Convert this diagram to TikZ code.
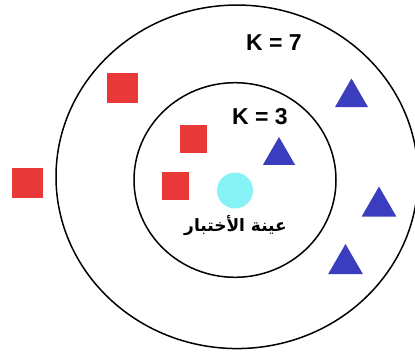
\documentclass[tikz,border=0pt]{standalone}
\usepackage{fontspec}
\setmainfont{Liberation Sans}
\newfontfamily\arabicfont[Script=Arabic]{DejaVu Sans}
\TeXXeTstate=1
\usetikzlibrary{shapes.geometric}
\definecolor{classA}{RGB}{232,56,56}
\definecolor{classB}{RGB}{58,62,190}
\definecolor{query}{RGB}{135,242,246}
\tikzset{ring/.style={ellipse,draw=black,line width=1.5pt,inner sep=0pt},
 sqpt/.style={rectangle,fill=classA,inner sep=0pt,minimum width=27pt,minimum height=28pt},
 tript/.style={regular polygon,regular polygon sides=3,fill=classB,inner sep=0pt,minimum size=38pt},
 klabel/.style={font=\bfseries\fontsize{23}{26}\selectfont},
 every picture/.style={line join=round,line cap=round}}
\begin{document}
\begin{tikzpicture}[x=1pt,y=-1pt]
\useasboundingbox (0,0) rectangle (415,351);
\node[ring,minimum width=362pt,minimum height=343.5pt] (outer) at (237,176.8) {};
\node[ring,minimum width=202pt,minimum height=194.6pt] (inner) at (235,180) {};
\node[sqpt,minimum width=31pt,minimum height=30pt] (sq1) at (122.5,88) {};
\node[sqpt] (sq2) at (193,139) {};
\node[sqpt] (sq3) at (175,186) {};
\node[sqpt,minimum width=31pt,minimum height=30pt] (sq4) at (27.5,183) {};
\node[tript] (tr1) at (351.5,97.5) {};
\node[tript,minimum size=37pt] (tr2) at (279,155.5) {};
\node[tript,minimum size=40pt] (tr3) at (379,206.5) {};
\node[tript,minimum size=40pt] (tr4) at (345.5,264) {};
\node[circle,fill=query,inner sep=0pt,minimum size=36pt] (test) at (235,190.5) {};
\node[klabel] (k7) at (274,43) {K = 7};
\node[klabel] (k3) at (260,116.5) {K = 3};
\node[font=\arabicfont\bfseries\fontsize{17}{20}\selectfont] (lbl) at (235.5,226) {\beginR عينة الأختبار\endR};
\end{tikzpicture}
\end{document}
